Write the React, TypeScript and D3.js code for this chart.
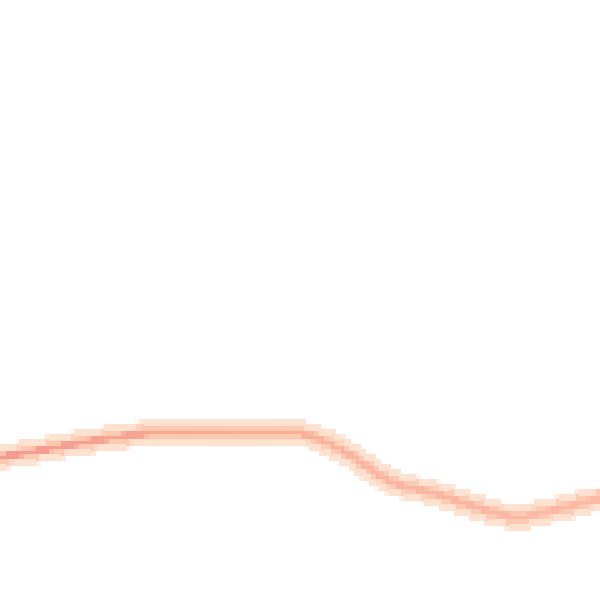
import React from "react";
import * as d3 from "d3";

const xs = [0, 5.5, 11.2, 16.7, 22.2, 27.8, 33.3, 41.7, 48.3, 52.2, 55.5, 58.3, 61.2, 65, 66.7, 72.2, 77.8, 83.3, 86.7, 88.8, 94.5, 100];
const ys = [23.8, 24.7, 25.8, 26.7, 27.5, 28.0, 28.0, 28.0, 28.0, 27.2, 25.8, 24.2, 22.2, 19.8, 19.2, 17.8, 16.0, 14.3, 13.7, 14.2, 15.5, 17.0];

const W = 600;
const H = 600;

export default function App() {
  const x = d3.scaleLinear().domain([0, 100]).range([0, W]);
  const y = d3.scaleLinear().domain([0, 100]).range([H, 0]);
  const pts: [number, number][] = xs.map((v, i) => [v, ys[i]]);
  const line = d3
    .line<[number, number]>()
    .x((d) => x(d[0]))
    .y((d) => y(d[1]))
    .curve(d3.curveMonotoneX);
  const d = line(pts) || "";
  return (
    <svg
      width={W}
      height={H}
      style={{ position: "absolute", left: 0, top: 0, background: "#fff" }}
    >
      <defs>
        <linearGradient id="core" x1="0" x2={W} y1="0" y2="0" gradientUnits="userSpaceOnUse">
          <stop offset="0" stopColor="#f59a8e" />
          <stop offset="0.3" stopColor="#f8a795" />
          <stop offset="0.6" stopColor="#fbb49e" />
          <stop offset="1" stopColor="#fbb9a3" />
        </linearGradient>
        <filter id="pix" filterUnits="userSpaceOnUse" x="0" y="0" width={W} height={H}>
          <feFlood x="2" y="2" width="1" height="1" floodColor="#000" />
          <feComposite width="5.4" height="5.4" />
          <feTile result="a" />
          <feComposite in="SourceGraphic" in2="a" operator="in" />
          <feMorphology operator="dilate" radius="2.7" />
        </filter>
      </defs>
      <g filter="url(#pix)">
        <path d={d} fill="none" stroke="#fee2d0" strokeWidth={23} strokeLinecap="butt" />
        <path d={d} fill="none" stroke="#fdc9b1" strokeWidth={14} />
        <path d={d} fill="none" stroke="url(#core)" strokeWidth={8} />
      </g>
    </svg>
  );
}
